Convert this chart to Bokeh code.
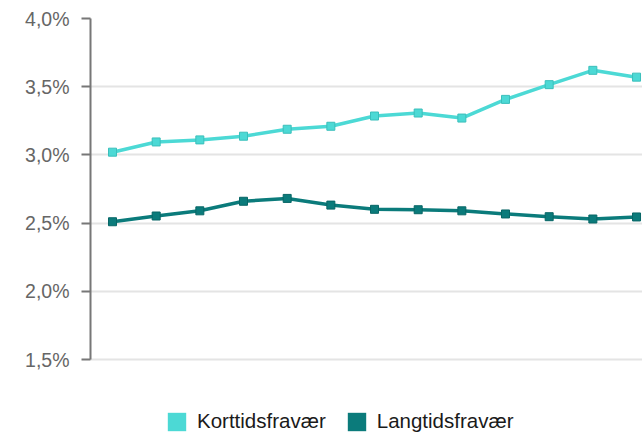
from bokeh.plotting import figure
from bokeh.models import Range1d, FixedTicker, Legend, LegendItem, ColumnDataSource
from bokeh.embed import file_html
from bokeh.resources import INLINE

x_idx = list(range(13))
kort = [3.02, 3.095, 3.11, 3.137, 3.188, 3.21, 3.285, 3.307, 3.27, 3.407, 3.515, 3.62, 3.57]
lang = [2.51, 2.552, 2.59, 2.66, 2.681, 2.632, 2.601, 2.598, 2.59, 2.567, 2.547, 2.53, 2.545]
series_names = ["Korttidsfravær", "Langtidsfravær"]
y_ticks = [1.5, 2.0, 2.5, 3.0, 3.5, 4.0]
y_tick_labels = ["1,5%", "2,0%", "2,5%", "3,0%", "3,5%", "4,0%"]
y_min, y_max = 1.5, 4.0

c_kort = "#4cd9d5"
c_lang = "#0b7b7b"
FONT = "Liberation Sans"

# frame extends below the axis (to leave room for legend inside the frame)
px_per_unit = 341 / (y_max - y_min)
y_low = y_min - 74 / px_per_unit

p = figure(width=642, height=433, output_backend="svg", toolbar_location=None,
           x_range=Range1d(-0.504, 12.137), y_range=Range1d(y_low, y_max))
p.min_border_left = 90
p.min_border_right = 0
p.min_border_top = 18
p.min_border_bottom = 0
p.outline_line_color = None
p.background_fill_color = "white"
p.border_fill_color = "white"

p.xaxis.visible = False
p.xgrid.visible = False
p.ygrid.grid_line_color = "#e4e4e4"
p.ygrid.grid_line_width = 2
p.ygrid.ticker = FixedTicker(ticks=y_ticks)

ya = p.yaxis[0]
ya.bounds = (y_min, y_max)
ya.ticker = FixedTicker(ticks=y_ticks)
ya.major_label_overrides = {t: l for t, l in zip(y_ticks, y_tick_labels)}
ya.axis_line_color = "#777777"
ya.axis_line_width = 2
ya.major_tick_line_color = "#777777"
ya.major_tick_line_width = 2
ya.major_tick_out = 9
ya.major_tick_in = 0
ya.minor_tick_out = 0
ya.minor_tick_in = 0
ya.major_label_standoff = 12
ya.major_label_text_font = FONT
ya.major_label_text_font_size = "19.5px"
ya.major_label_text_color = "#666666"

src = ColumnDataSource(dict(x=x_idx, kort=kort, lang=lang))
p.line("x", "kort", source=src, line_color=c_kort, line_width=3.5)
p.scatter("x", "kort", source=src, marker="square", size=8, fill_color=c_kort, line_color="#3bbfbb", line_width=1)
p.line("x", "lang", source=src, line_color=c_lang, line_width=3.5)
p.scatter("x", "lang", source=src, marker="square", size=8, fill_color=c_lang, line_color="#086666", line_width=1)

# degenerate (zero-area) quads used only as legend swatches
sw1 = ColumnDataSource(dict(l=[x_idx[0]], r=[x_idx[0]], b=[kort[0]], t=[kort[0]]))
sw2 = ColumnDataSource(dict(l=[x_idx[0]], r=[x_idx[0]], b=[lang[0]], t=[lang[0]]))
q1 = p.quad(left="l", right="r", bottom="b", top="t", source=sw1, fill_color=c_kort, line_color=None)
q2 = p.quad(left="l", right="r", bottom="b", top="t", source=sw2, fill_color=c_lang, line_color=None)

legend = Legend(items=[LegendItem(label=series_names[0], renderers=[q1]),
                       LegendItem(label=series_names[1], renderers=[q2])],
                orientation="horizontal", location=(75, 0),
                glyph_width=23, glyph_height=23, label_height=20, label_standoff=9, spacing=19,
                label_text_font=FONT, label_text_font_size="20.5px", label_text_color="#1a1a1a",
                border_line_color=None, background_fill_alpha=0, padding=0, margin=0)
p.add_layout(legend)

open("out.html", "w").write(file_html(p, INLINE))
